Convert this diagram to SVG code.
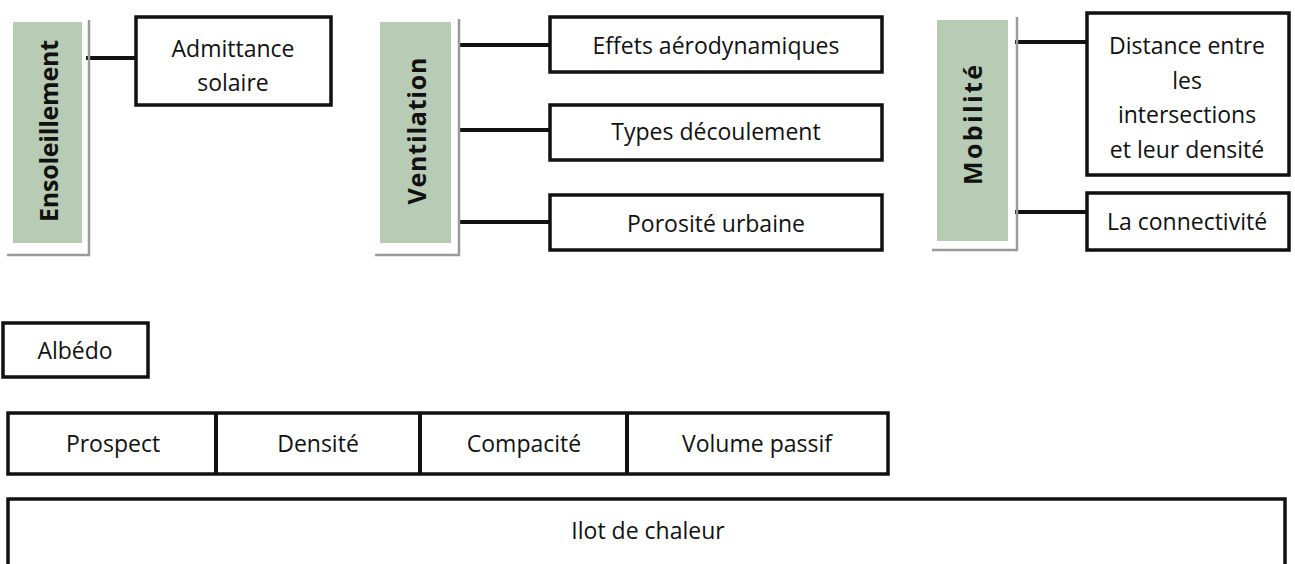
<svg xmlns="http://www.w3.org/2000/svg" width="1295" height="564" viewBox="0 0 1295 564">
<style>
.box{fill:#fff;stroke:#111;stroke-width:3.5}
.cat{fill:#b7cbb5}
.sh{fill:none;stroke:#9a9a9a;stroke-width:2.5}
.t{font-family:"Open Sans","Liberation Sans",sans-serif;font-size:23px;fill:#111;text-anchor:middle;dominant-baseline:central}
.v{font-family:"Open Sans","Liberation Sans",sans-serif;font-size:25px;font-weight:bold;fill:#111;text-anchor:middle;dominant-baseline:central}
.c{stroke:#111;stroke-width:4;fill:none}
</style>
<rect width="1295" height="564" fill="#fff"/>
<g id="connectors">
<line class="c" x1="86" y1="58" x2="136" y2="58"/>
<line class="c" x1="459" y1="45" x2="550" y2="45"/>
<line class="c" x1="459" y1="130" x2="550" y2="130"/>
<line class="c" x1="459" y1="222" x2="550" y2="222"/>
<line class="c" x1="1015" y1="42" x2="1087" y2="42"/>
<line class="c" x1="1015" y1="212" x2="1087" y2="212"/>
</g>
<g id="ensoleillement">
<path class="sh" d="M89 20 V255 H7"/>
<rect class="cat" x="13" y="22" width="69" height="221"/>
<text class="v" transform="translate(48 131) rotate(-90)" textLength="182" lengthAdjust="spacing">Ensoleillement</text>
</g>
<g id="admittance">
<rect class="box" x="136" y="17" width="195" height="88"/>
<text class="t" x="233" y="48">Admittance</text>
<text class="t" x="233" y="82">solaire</text>
</g>
<g id="ventilation">
<path class="sh" d="M459 19 V255 H375"/>
<rect class="cat" x="380" y="22" width="71" height="221"/>
<text class="v" transform="translate(416 131) rotate(-90)" textLength="147" lengthAdjust="spacing">Ventilation</text>
</g>
<g id="effets">
<rect class="box" x="550" y="17" width="332" height="55"/>
<text class="t" x="716" y="45">Effets aérodynamiques</text>
</g>
<g id="types">
<rect class="box" x="550" y="105" width="332" height="55"/>
<text class="t" x="716" y="131">Types découlement</text>
</g>
<g id="porosite">
<rect class="box" x="550" y="195" width="332" height="55"/>
<text class="t" x="716" y="223">Porosité urbaine</text>
</g>
<g id="mobilite">
<path class="sh" d="M1017 17 V250 H932"/>
<rect class="cat" x="937" y="20" width="71" height="221"/>
<text class="v" transform="translate(972 125) rotate(-90)" textLength="120" lengthAdjust="spacing">Mobilité</text>
</g>
<g id="distance">
<rect class="box" x="1087" y="13" width="202" height="162"/>
<text class="t" x="1187" y="45">Distance entre</text>
<text class="t" x="1187" y="80">les</text>
<text class="t" x="1187" y="114">intersections</text>
<text class="t" x="1187" y="149">et leur densité</text>
</g>
<g id="connectivite">
<rect class="box" x="1087" y="193" width="202" height="57"/>
<text class="t" x="1187" y="221">La connectivité</text>
</g>
<g id="albedo">
<rect class="box" x="3" y="323" width="145" height="54"/>
<text class="t" x="75" y="350">Albédo</text>
</g>
<g id="morphologie">
<rect class="box" x="8" y="413" width="880" height="61"/>
<line class="c" x1="216" y1="413" x2="216" y2="474"/>
<line class="c" x1="420" y1="413" x2="420" y2="474"/>
<line class="c" x1="627" y1="413" x2="627" y2="474"/>
<text class="t" x="113" y="443">Prospect</text>
<text class="t" x="318" y="443">Densité</text>
<text class="t" x="524" y="443">Compacité</text>
<text class="t" x="757" y="443">Volume passif</text>
</g>
<g id="ilot">
<rect class="box" x="8" y="499" width="1277" height="70"/>
<text class="t" x="648" y="530">Ilot de chaleur</text>
</g>
</svg>
